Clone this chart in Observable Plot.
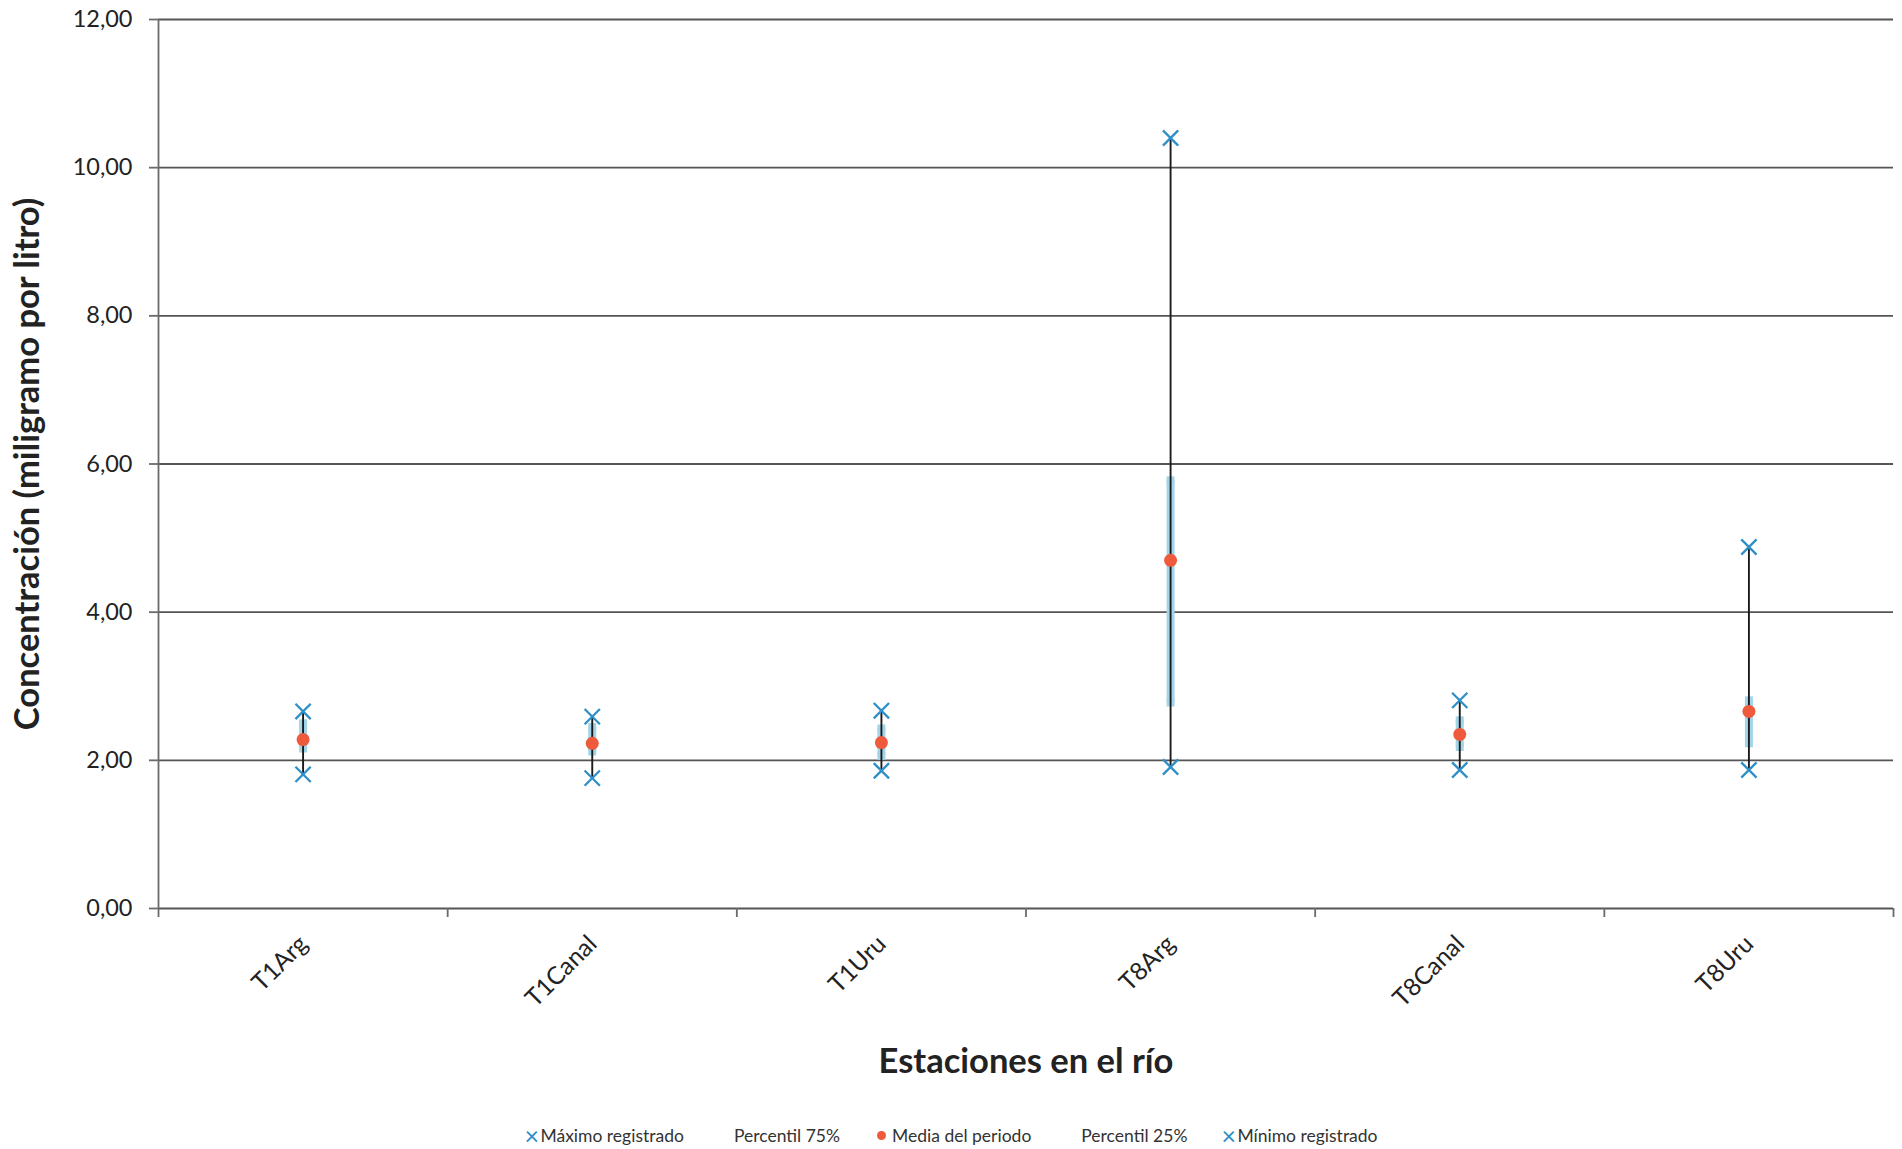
<!DOCTYPE html>
<html><head><meta charset="utf-8">
<script src="https://cdn.jsdelivr.net/npm/d3@7"></script>
<script src="https://cdn.jsdelivr.net/npm/@observablehq/plot@0.6"></script>
<style>
html,body{margin:0;padding:0;background:#fff;}
body{font-family:Lato,"Open Sans",sans-serif;width:1902px;}
#legend{display:flex;justify-content:center;align-items:center;height:39px;padding-top:6px;font-size:17.5px;color:#333;gap:34px;}
#legend .item{display:flex;align-items:center;white-space:nowrap;}
#legend .mk{display:inline-block;width:14px;text-align:center;margin-right:2px;}
#legend .x{color:#2f8fc8;font-size:25px;line-height:1;}
#legend .dot{width:9px;height:9px;border-radius:50%;background:#ef5a3c;margin-right:6px;margin-left:3px;}
</style></head>
<body>
<div id="chart"></div>
<div id="legend"></div>
<script>
const estaciones = ["T1Arg","T1Canal","T1Uru","T8Arg","T8Canal","T8Uru"];
const maximo      = [2.66, 2.59, 2.67, 10.40, 2.81, 4.88];
const percentil75 = [2.50, 2.45, 2.43, 5.78, 2.54, 2.81];
const media       = [2.28, 2.23, 2.24, 4.70, 2.35, 2.66];
const percentil25 = [2.16, 2.12, 2.06, 2.78, 2.18, 2.23];
const minimo      = [1.81, 1.76, 1.86, 1.91, 1.87, 1.87];
const yTicks = [0, 2, 4, 6, 8, 10, 12];
const yTitle = "Concentración (miligramo por litro)";
const xTitle = "Estaciones en el río";
const legendItems = [
  {label:"Máximo registrado", kind:"x"},
  {label:"Percentil 75%", kind:"none"},
  {label:"Media del periodo", kind:"dot"},
  {label:"Percentil 25%", kind:"none"},
  {label:"Mínimo registrado", kind:"x"}
];

const rows = estaciones.map((e, i) => ({
  e, pos: i + 0.5,
  max: maximo[i], p75: percentil75[i], mean: media[i], p25: percentil25[i], min: minimo[i]
}));

const blue = "#2f8fc8", light = "#a3d5e9", red = "#ef5a3c", grid = "#555";
const fmt = d => d.toFixed(2).replace(".", ",");

const chart = Plot.plot({
  width: 1902, height: 1110,
  marginLeft: 158, marginRight: 9, marginTop: 19, marginBottom: 202,
  style: {fontFamily: "Lato, 'Open Sans', sans-serif", background: "#fff", color: "#222"},
  x: {domain: [0, estaciones.length], axis: null},
  y: {domain: [0, 12], axis: null},
  marks: [
    Plot.ruleY(yTicks, {stroke: grid, strokeWidth: 1.8}),
    Plot.ruleX([0], {stroke: "#6a6a6a", strokeWidth: 1.8}),
    Plot.axisY({ticks: yTicks, tickFormat: fmt, tickSize: 9, tickPadding: 17, fontSize: 23.5, stroke: "#6a6a6a", strokeWidth: 1.8, label: null}),
    Plot.axisX({ticks: d3.range(estaciones.length + 1), tickFormat: () => "", tickSize: 9, stroke: "#6a6a6a", strokeWidth: 1.8, label: null}),
    Plot.text(rows, {x: "pos", frameAnchor: "bottom", text: "e", rotate: -45, textAnchor: "end", dx: 6, dy: 37, fontSize: 24.5, fill: "#222"}),
    Plot.ruleX(rows, {x: "pos", y1: "p25", y2: "p75", stroke: light, strokeWidth: 8}),
    Plot.dot(rows, {x: "pos", y: "p75", symbol: "square", r: 4.5, fill: light}),
    Plot.dot(rows, {x: "pos", y: "p25", symbol: "square", r: 4.5, fill: light}),
    Plot.ruleX(rows, {x: "pos", y1: "min", y2: "max", stroke: "#1b1b1b", strokeWidth: 1.9}),
    Plot.dot(rows, {x: "pos", y: "max", symbol: "times", r: 7, stroke: blue, strokeWidth: 2.3}),
    Plot.dot(rows, {x: "pos", y: "min", symbol: "times", r: 7, stroke: blue, strokeWidth: 2.3}),
    Plot.dot(rows, {x: "pos", y: "mean", r: 6.5, fill: red}),
    Plot.text([yTitle], {frameAnchor: "left", dx: -131, rotate: -90, textAnchor: "middle", fontSize: 34.5, fontWeight: "bold", fill: "#222"}),
    Plot.text([xTitle], {frameAnchor: "bottom", dy: 164, textAnchor: "middle", fontSize: 34.5, fontWeight: "bold", fill: "#222"})
  ]
});
document.getElementById("chart").appendChild(chart);

const lg = document.getElementById("legend");
legendItems.forEach(it => {
  const d = document.createElement("div");
  d.className = "item";
  const m = document.createElement("span");
  if (it.kind === "x") { m.className = "mk x"; m.textContent = "×"; }
  else if (it.kind === "dot") { m.className = "mk dot"; }
  else { m.className = "mk"; }
  d.appendChild(m);
  const t = document.createElement("span");
  t.textContent = it.label;
  d.appendChild(t);
  lg.appendChild(d);
});
</script>
</body></html>
